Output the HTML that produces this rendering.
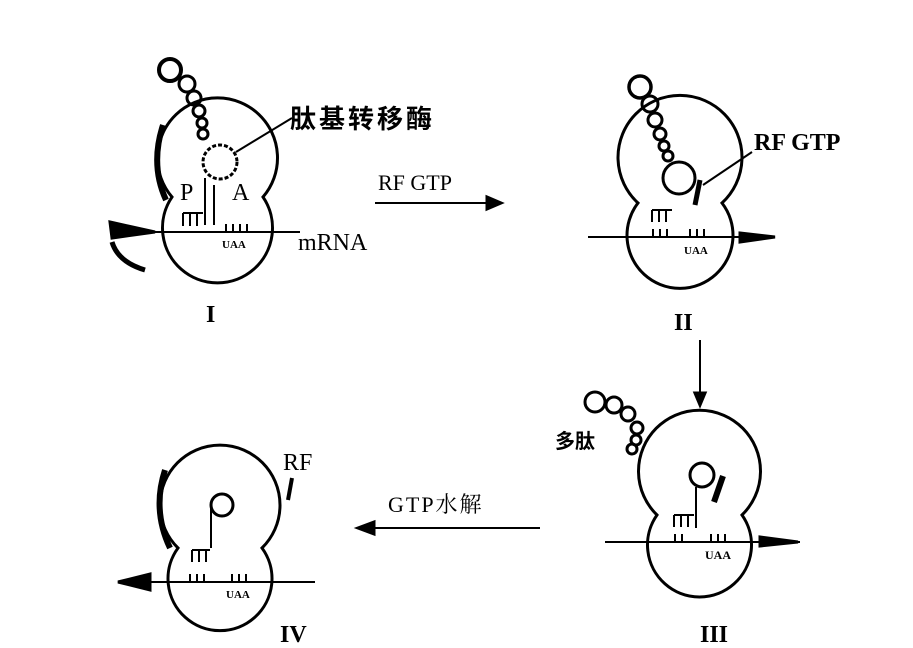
<!DOCTYPE html>
<html><head><meta charset="utf-8"><style>
html,body{margin:0;padding:0;background:#fff;}
svg{display:block;}
text{font-family:"Liberation Serif","Noto Serif CJK SC",serif;fill:#000;}
.cjk{font-family:"Liberation Sans","Noto Sans CJK SC",sans-serif;font-weight:bold;}
</style></head><body>
<svg width="913" height="648" viewBox="0 0 913 648" xmlns="http://www.w3.org/2000/svg">
<g fill="none" stroke="#000" stroke-width="3">
<!-- Panel I -->
<path d="M172,197 A60,60 0 1 1 263,197 A55,55 0 1 1 172,197 Z"/>
<path d="M163,125 Q150,165 166,200" stroke-width="6"/>
<circle cx="170" cy="70" r="11" stroke-width="4"/><circle cx="187" cy="84" r="8"/><circle cx="194" cy="98" r="7"/>
<circle cx="199" cy="111" r="6"/><circle cx="202" cy="123" r="5"/><circle cx="203" cy="134" r="5"/>
<circle cx="220" cy="162" r="17" stroke-dasharray="4,2"/>
<line x1="236" y1="152" x2="292" y2="118" stroke-width="2"/>
<path d="M205,178 V225 M214,185 V225" stroke-width="2"/>
<line x1="112" y1="232" x2="300" y2="232" stroke-width="2"/>
<path d="M110,222 L155,232 L112,238 Z" fill="#000"/>
<path d="M112,242 Q118,262 145,270" stroke-width="5"/>
<path d="M183,213 h20 M183,213 v13 M190,213 v13 M197,213 v13 M226,232 v-8 M233,232 v-8 M240,232 v-8 M247,232 v-8" stroke-width="2"/>
<!-- arrow RF GTP -->
<line x1="375" y1="203" x2="495" y2="203" stroke-width="2"/>
<path d="M487,197 L501,203 L487,209 Z" fill="#000"/>
<!-- Panel II -->
<path d="M638,203 A62,62 0 1 1 722,203 A53,53 0 1 1 638,203 Z"/>
<circle cx="640" cy="87" r="11" stroke-width="3.5"/><circle cx="650" cy="104" r="8"/><circle cx="655" cy="120" r="7"/>
<circle cx="660" cy="134" r="6"/><circle cx="664" cy="146" r="5"/><circle cx="668" cy="156" r="5"/>
<circle cx="679" cy="178" r="16"/>
<path d="M700,180 L695,205" stroke-width="5"/>
<line x1="703" y1="185" x2="752" y2="152" stroke-width="2"/>
<line x1="588" y1="237" x2="775" y2="237" stroke-width="2"/>
<path d="M740,233 L775,237 L740,242 Z" fill="#000"/>
<path d="M652,210 h20 M652,210 v12 M659,210 v12 M666,210 v12 M653,237 v-8 M660,237 v-8 M667,237 v-8 M690,237 v-8 M697,237 v-8 M704,237 v-8" stroke-width="2"/>
<line x1="700" y1="340" x2="700" y2="400" stroke-width="2"/>
<path d="M695,393 L700,405 L705,393 Z" fill="#000"/>
<!-- Panel III -->
<path d="M657,515 A61,61 0 1 1 742,515 A52,52 0 1 1 657,515 Z"/>
<circle cx="595" cy="402" r="10"/><circle cx="614" cy="405" r="8"/><circle cx="628" cy="414" r="7"/>
<circle cx="637" cy="428" r="6"/><circle cx="636" cy="440" r="5"/><circle cx="632" cy="449" r="5"/>
<circle cx="702" cy="475" r="12"/>
<path d="M723,476 L714,502" stroke-width="6"/>
<path d="M696,487 V528" stroke-width="2"/>
<line x1="605" y1="542" x2="800" y2="542" stroke-width="2"/>
<path d="M760,537 L798,542 L760,546 Z" fill="#000"/>
<path d="M674,515 h20 M674,515 v12 M681,515 v12 M688,515 v12 M675,542 v-8 M682,542 v-8 M711,542 v-8 M718,542 v-8 M725,542 v-8" stroke-width="2"/>
<!-- arrow GTP水解 -->
<line x1="362" y1="528" x2="540" y2="528" stroke-width="2"/>
<path d="M374,522 L358,528 L374,534 Z" fill="#000"/>
<!-- Panel IV -->
<path d="M178,548 A60,60 0 1 1 262,548 A52,52 0 1 1 178,548 Z"/>
<path d="M165,470 Q152,510 170,548" stroke-width="6"/>
<circle cx="222" cy="505" r="11"/>
<path d="M211,505 V548" stroke-width="2"/>
<path d="M292,478 L288,500" stroke-width="4"/>
<line x1="120" y1="582" x2="315" y2="582" stroke-width="2"/>
<path d="M118,582 L150,574 L150,590 Z" fill="#000"/>
<path d="M192,550 h18 M192,550 v12 M199,550 v12 M206,550 v12 M190,582 v-8 M197,582 v-8 M204,582 v-8 M232,582 v-8 M239,582 v-8 M246,582 v-8" stroke-width="2"/>
</g>
<text x="180" y="200" font-size="24">P</text>
<text x="232" y="200" font-size="24">A</text>
<text x="222" y="248" font-size="11" font-weight="bold">UAA</text>
<text x="298" y="250" font-size="24">mRNA</text>
<text x="290" y="128" font-size="26" class="cjk" letter-spacing="3">肽基转移酶</text>
<text x="206" y="322" font-size="24" font-weight="bold">I</text>
<text x="378" y="190" font-size="22">RF GTP</text>
<text x="754" y="150" font-size="24" font-weight="bold">RF GTP</text>
<text x="684" y="254" font-size="11" font-weight="bold">UAA</text>
<text x="674" y="330" font-size="24" font-weight="bold">II</text>
<text x="555" y="448" font-size="20" class="cjk">多肽</text>
<text x="705" y="559" font-size="12" font-weight="bold">UAA</text>
<text x="700" y="642" font-size="24" font-weight="bold">III</text>
<text x="388" y="512" font-size="22" letter-spacing="2">GTP水解</text>
<text x="283" y="470" font-size="24">RF</text>
<text x="226" y="598" font-size="11" font-weight="bold">UAA</text>
<text x="280" y="642" font-size="24" font-weight="bold">IV</text>
</svg>
</body></html>
